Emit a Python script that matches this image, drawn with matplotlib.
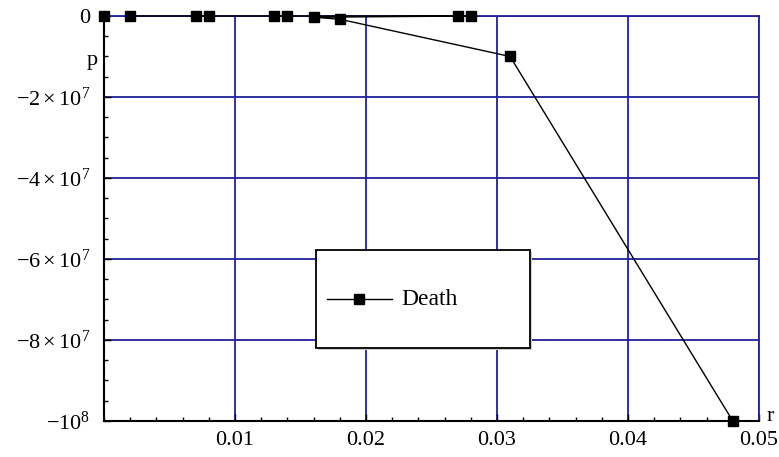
import matplotlib
matplotlib.use('Agg')
import matplotlib.pyplot as plt
from matplotlib.patches import Rectangle
from matplotlib.lines import Line2D
from matplotlib.ticker import MultipleLocator, FixedLocator

plt.rcParams['font.family'] = ['Liberation Serif', 'DejaVu Serif']
plt.rcParams['mathtext.fontset'] = 'custom'
plt.rcParams['mathtext.rm'] = 'Liberation Serif'
plt.rcParams['mathtext.it'] = 'Liberation Serif:italic'

# data, in the order the points are joined
r = [0.0, 0.002, 0.007, 0.008, 0.013, 0.014, 0.027, 0.028, 0.016, 0.018, 0.031, 0.048]
p = [0, 0, 0, 0, 0, 0, 0, 0, -3e5, -8e5, -1.0e7, -1.0e8]

x_ticks = [0.01, 0.02, 0.03, 0.04, 0.05]
x_labels = ['0.01', '0.02', '0.03', '0.04', '0.05']
y_ticks = [0, -2e7, -4e7, -6e7, -8e7, -1e8]
y_labels = ['0', r'$-2\times10^{7}$', r'$-4\times10^{7}$', r'$-6\times10^{7}$',
            r'$-8\times10^{7}$', r'$-10^{8}$']
legend_label = 'Death'

GRID = '#20209a'

fig = plt.figure(figsize=(7.79, 4.57), dpi=100)
ax = fig.add_axes([0.1335, 0.0788, 0.8408, 0.8862])

ax.set_xlim(0, 0.05)
ax.set_ylim(-1e8, 0)

# grid
for xv in x_ticks:
    ax.axvline(xv, color=GRID, lw=1.3, zorder=1)
for yv in y_ticks:
    ax.axhline(yv, color=GRID, lw=1.3, zorder=1)

# data line (the first point stands alone) and markers
ax.plot(r[1:], p[1:], color='black', lw=1.0, zorder=3, clip_on=False)
ax.plot(r, p, ls='none', marker='s', ms=6.5, color='black', zorder=4, clip_on=False)

# axes styling
ax.spines['top'].set_color(GRID)
ax.spines['right'].set_color(GRID)
ax.spines['top'].set_linewidth(1.3)
ax.spines['right'].set_linewidth(1.3)
ax.spines['left'].set_linewidth(1.5)
ax.spines['bottom'].set_linewidth(1.5)

ax.xaxis.set_major_locator(FixedLocator(x_ticks))
ax.set_xticklabels(x_labels)
ax.xaxis.set_minor_locator(MultipleLocator(0.002))
ax.yaxis.set_major_locator(FixedLocator(y_ticks))
ax.set_yticklabels(y_labels)
ax.yaxis.set_minor_locator(MultipleLocator(0.5e7))

ax.tick_params(which='both', direction='in', top=False, right=False, colors='black',
               labelsize=16)
ax.tick_params(which='major', length=5, width=1)
ax.tick_params(which='minor', length=3, width=1)
ax.tick_params(axis='x', pad=7)
ax.tick_params(axis='y', pad=10)

ax.text(-0.009, 0.89, 'p', transform=ax.transAxes, ha='right', va='center', fontsize=16)
ax.text(1.012, 0.012, 'r', transform=ax.transAxes, ha='left', va='center', fontsize=16)

# legend box drawn by hand
shadow = Rectangle((0.327, 0.176), 0.327, 0.242, transform=ax.transAxes,
                   facecolor='#cfcfcf', edgecolor='none', zorder=5)
box = Rectangle((0.324, 0.18), 0.327, 0.242, transform=ax.transAxes,
                facecolor='white', edgecolor='black', lw=1.3, zorder=6)
ax.add_patch(shadow)
ax.add_patch(box)
ax.add_line(Line2D([0.340, 0.440], [0.301, 0.301], transform=ax.transAxes,
                   color='black', lw=1.0, zorder=7))
ax.add_line(Line2D([0.390], [0.301], transform=ax.transAxes, marker='s', ms=6.5,
                   color='black', zorder=8))
ax.text(0.454, 0.301, legend_label, transform=ax.transAxes, ha='left', va='center',
        fontsize=17, zorder=8)

fig.savefig('out.png', dpi=100)
